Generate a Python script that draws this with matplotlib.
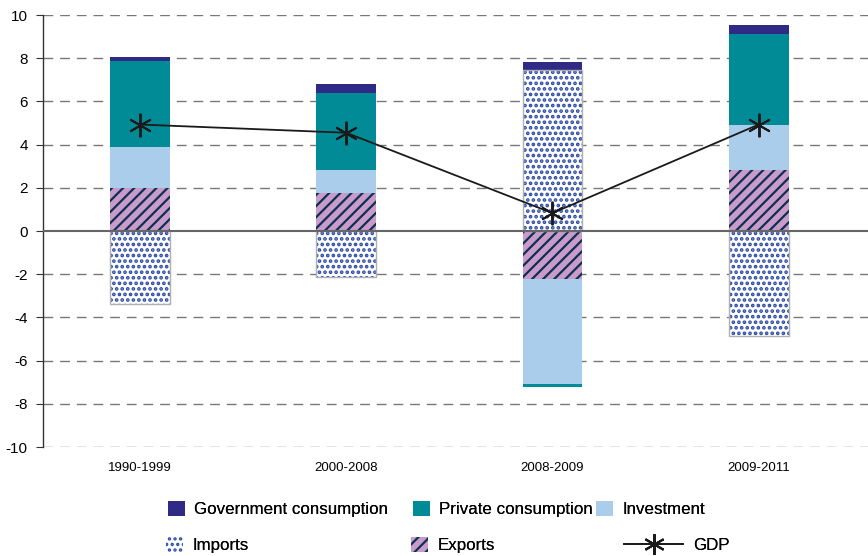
import matplotlib
matplotlib.use("Agg")
import matplotlib.pyplot as plt
import numpy as np
from matplotlib.lines import Line2D
from matplotlib.patches import Patch

plt.rcParams['font.family'] = ['Liberation Sans', 'DejaVu Sans']

periods = ["1990-1999", "2000-2008", "2008-2009", "2009-2011"]
government = [0.19, 0.41, 0.37, 0.42]
private = [3.97, 3.57, -0.12, 4.22]
investment = [1.90, 1.06, -4.88, 2.08]
exports = [1.99, 1.76, -2.20, 2.82]
imports = [-3.38, -2.13, 7.45, -4.86]
gdp = [4.93, 4.55, 0.83, 4.93]
y_ticks = list(range(-10, 11, 2))

c_gov = "#2e2a85"
c_priv = "#008b96"
c_inv = "#abcdec"
c_exp = "#c99bc9"
c_imp_dot = "#2a48a6"
c_exp_hatch = "#0e2f55"

fig = plt.figure(figsize=(8.68, 5.56), dpi=100)
ax = fig.add_axes([0.0495, 0.196, 0.9505, 0.777])

x = np.arange(len(periods))
w = 0.29

# stack positive and negative contributions separately
pos_base = np.zeros(len(periods))
neg_base = np.zeros(len(periods))

order = [
    ("Exports", exports),
    ("Imports", imports),
    ("Investment", investment),
    ("Private consumption", private),
    ("Government consumption", government),
]

for name, vals in order:
    vals = np.array(vals)
    bottoms = np.where(vals >= 0, pos_base, neg_base)
    if name == "Imports":
        plt.rcParams['hatch.linewidth'] = 1.8
        ax.bar(x, vals, w, bottom=bottoms, color="white", edgecolor=c_imp_dot,
               hatch="...", linewidth=0, zorder=3)
        ax.bar(x, vals, w, bottom=bottoms, fill=False, edgecolor="#b0b0b0",
               linewidth=1.0, zorder=4)
    elif name == "Exports":
        plt.rcParams['hatch.linewidth'] = 1.6
        ax.bar(x, vals, w, bottom=bottoms, color=c_exp, edgecolor=c_exp_hatch,
               hatch="///", linewidth=0, zorder=3)
    else:
        color = {"Investment": c_inv, "Private consumption": c_priv,
                 "Government consumption": c_gov}[name]
        ax.bar(x, vals, w, bottom=bottoms, color=color, linewidth=0, zorder=3)
    pos_base = pos_base + np.where(vals >= 0, vals, 0)
    neg_base = neg_base + np.where(vals < 0, vals, 0)

gdp_style = dict(color="#1a1a1a", linewidth=1.3, marker=(6, 2, 0),
                 markersize=17, markeredgewidth=1.4)
ax.plot(x, gdp, zorder=6, **gdp_style)

ax.set_xlim(-0.47, 3.53)
ax.set_ylim(-10, 10)
ax.set_yticks(y_ticks)
ax.set_yticklabels([str(t) for t in y_ticks], fontsize=11)
ax.set_xticks(x)
ax.set_xticklabels(periods, fontsize=9.5)
ax.tick_params(axis="x", length=0, pad=11)
ax.tick_params(axis="y", direction="out", length=5, color="#333333", pad=6)

for t in y_ticks:
    if t == 0:
        continue
    ax.axhline(t, color="#777777", linewidth=1.0, linestyle=(0, (7, 5)), zorder=1)
ax.axhline(0, color="#666666", linewidth=1.5, zorder=5)

for s in ["top", "right", "bottom"]:
    ax.spines[s].set_visible(False)
ax.spines["left"].set_color("#333333")
ax.spines["left"].set_linewidth(1.0)

# legend entries laid out in a fixed 3x2 grid
plt.rcParams['hatch.linewidth'] = 1.6
entries = [
    (Patch(facecolor=c_gov, edgecolor="none", label="Government consumption"), 168, 509, 1.0),
    (Patch(facecolor=c_priv, edgecolor="none", label="Private consumption"), 413, 509, 1.0),
    (Patch(facecolor=c_inv, edgecolor="none", label="Investment"), 596, 509, 1.0),
    (Patch(facecolor="white", edgecolor=c_imp_dot, hatch="...", linewidth=0, label="Imports"), 166, 545, 1.0),
    (Patch(facecolor=c_exp, edgecolor=c_exp_hatch, hatch="///", linewidth=0, label="Exports"), 411, 545, 1.0),
    (Line2D([0], [0], label="GDP", **{**gdp_style, "markersize": 15}), 624, 545, 3.5),
]
W, H = 868, 556
for handle, px, py, hl in entries:
    leg = fig.legend(handles=[handle], loc="center left",
                     bbox_to_anchor=(px / W, 1 - py / H), frameon=False,
                     fontsize=12.2, handlelength=hl, handleheight=1.0,
                     handletextpad=0.55, borderpad=0, borderaxespad=0)
    fig.add_artist(leg)

fig.savefig("out.png", dpi=100)
